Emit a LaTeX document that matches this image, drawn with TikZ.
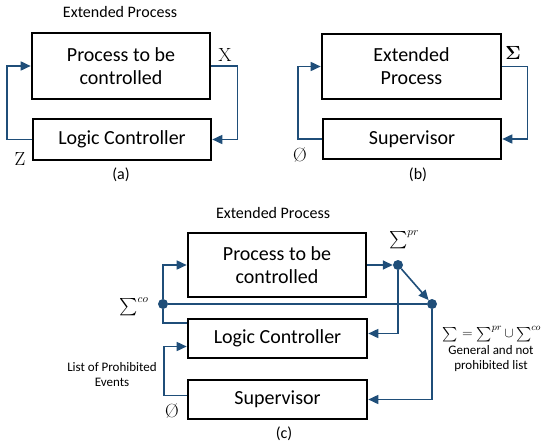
\RequirePackage{fix-cm}
\documentclass[tikz,border=0pt]{standalone}
\usepackage{amsmath}
\usepackage{fontspec}
\newfontfamily\cb{Carlito}
\usetikzlibrary{arrows.meta}
\definecolor{lineblue}{RGB}{31,78,121}
\begin{document}
\begin{tikzpicture}[x=1pt,y=-1pt,
  box/.style={draw=black,line width=2.6pt,rectangle,inner sep=0pt,align=center,font=\cb\fontsize{20}{23}\selectfont},
  conn/.style={draw=lineblue,line width=1.6pt},
  arr/.style={conn,-{Triangle[length=10pt,width=9pt]}},
  dot/.style={circle,fill=lineblue,inner sep=0pt,minimum size=10pt},
  lbl/.style={font=\cb\fontsize{16}{18}\selectfont,inner sep=0pt},
  small/.style={font=\cb\fontsize{13}{15}\selectfont,align=center,inner sep=0pt},
  sym/.style={font=\fontsize{19}{21}\selectfont,inner sep=0pt},
]
\useasboundingbox (0,0) rectangle (550,447);
% ---------- (a)
\node[lbl] (ta) at (120,12) {Extended Process};
\node[box,minimum width=178pt,minimum height=66pt] (PA) at (121,66) {Process to be\\controlled};
\node[box,minimum width=178pt,minimum height=41pt] (LA) at (122,139.5) {Logic Controller};
\draw[arr] (LA.west) -- ++(-25,0) |- (PA.west);
\draw[arr] (PA.east) -- ++(26,0) |- (LA.east);
\node[sym] (X) at (225,55) {$\mathrm{X}$};
\node[sym] (Z) at (20,159) {$\mathrm{Z}$};
\node[lbl] (ca) at (121,175) {(a)};
% ---------- (b)
\node[box,minimum width=179pt,minimum height=65pt] (EP) at (411.5,66.5) {Extended\\Process};
\node[box,minimum width=178pt,minimum height=40pt] (SB) at (412,139) {Supervisor};
\draw[arr] (SB.west) -- ++(-24,0) |- (EP.west);
\draw[arr] (EP.east) -- ++(25,0) |- (SB.east);
\node[sym] (S) at (513,53) {$\boldsymbol{\Sigma}$};
\node[sym] (E) at (300,155) {Ø};
\node[lbl] (cb) at (418,175) {(b)};
% ---------- (c)
\node[lbl] (tc) at (273,213) {Extended Process};
\node[box,minimum width=178pt,minimum height=64pt] (PC) at (277,265) {Process to be\\controlled};
\node[box,minimum width=179pt,minimum height=39pt] (LC) at (277.5,338.5) {Logic Controller};
\node[box,minimum width=179pt,minimum height=39pt] (SC) at (277.5,399.5) {Supervisor};
\node[dot] (pr) at (398,265) {};
\node[dot] (R) at (432,304) {};
\node[dot] (co) at (163,304) {};
\draw[arr] (PC.east) -- (pr);
\draw[arr] (pr) -- (R);
\draw[conn] (co) -- (R);
\draw[arr] (co) |- (PC.west);
\draw[conn] (co) |- ([yshift=-5pt]LC.north west);
\draw[arr] (pr) |- ([yshift=5pt]LC.east);
\draw[arr] (R) |- (SC.east);
\draw[arr] ([yshift=4pt]SC.west) -- ++(-23,0) |- ([yshift=-8pt]LC.west);
\node[font=\fontsize{16}{18}\selectfont,inner sep=0pt] (spr) at (404,240) {$\sum\nolimits^{pr}$};
\node[font=\fontsize{16}{18}\selectfont,inner sep=0pt] (sco) at (134,307) {$\sum\nolimits^{co}$};
\node[sym] (E2) at (172,411) {Ø};
\node[small] (lp) at (112,375) {List of Prohibited\\Events};
\node[font=\fontsize{14}{16}\selectfont,inner sep=0pt] (fm) at (492,334) {$\sum = \sum\nolimits^{pr} \cup \sum\nolimits^{co}$};
\node[small] (gn) at (491,359) {General and not\\prohibited list};
\node[lbl] (cc) at (284,434) {(c)};
\end{tikzpicture}
\end{document}
